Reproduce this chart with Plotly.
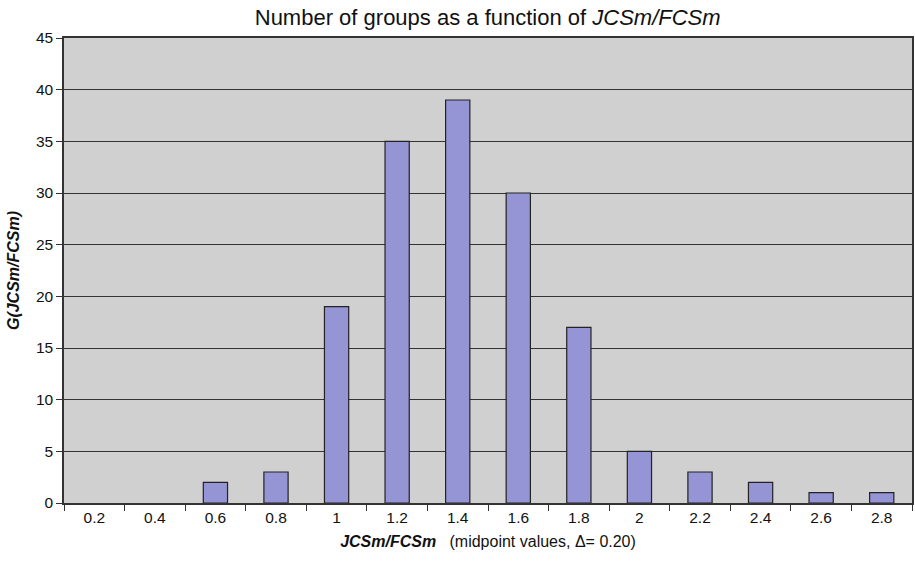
import plotly.graph_objects as go

categories = ["0.2", "0.4", "0.6", "0.8", "1", "1.2", "1.4", "1.6", "1.8", "2", "2.2", "2.4", "2.6", "2.8"]
counts = [0, 0, 2, 3, 19, 35, 39, 30, 17, 5, 3, 2, 1, 1]
y_ticks = [0, 5, 10, 15, 20, 25, 30, 35, 40, 45]

outline_widths = [1.2 if c > 0 else 0 for c in counts]

fig = go.Figure(go.Bar(
    x=categories, y=counts,
    marker=dict(color="#9595d6", line=dict(color="#222222", width=outline_widths)),
    width=0.4,
))

fig.update_layout(
    width=915, height=561,
    margin=dict(l=64, r=3, t=38, b=58, autoexpand=False),
    paper_bgcolor="white", plot_bgcolor="#d0d0d0",
    font=dict(family="Liberation Sans, Arial", size=15, color="#111"),
    title=dict(text="Number of groups as a function of <i>JCSm/FCSm</i>",
               x=0.533, xanchor="center", y=0.9695, yanchor="middle",
               font=dict(size=22, color="#111")),
    showlegend=False,
)
fig.update_xaxes(
    type="category", tickson="boundaries", ticks="outside", ticklen=6,
    tickcolor="#333", showline=True, linecolor="#333", linewidth=1.5, mirror=True,
    showgrid=False, automargin=False, tickfont=dict(size=15.5),
    title=dict(text="<b><i>JCSm/FCSm</i></b>   (midpoint values, Δ= 0.20)", standoff=10,
               font=dict(size=16)),
)
fig.update_yaxes(
    range=[0, 45], tickvals=y_ticks, ticks="outside", ticklen=6, tickcolor="#333",
    showline=True, linecolor="#333", linewidth=1.5, mirror=True,
    showgrid=True, gridcolor="#333", gridwidth=1, zeroline=False, automargin=False,
    tickfont=dict(size=15.5),
    title=dict(text="<b><i>G(JCSm/FCSm)</i></b>", standoff=12, font=dict(size=16)),
)

fig.write_html("out.html", config={"displayModeBar": False},
               post_script="document.body.style.margin='0';")
